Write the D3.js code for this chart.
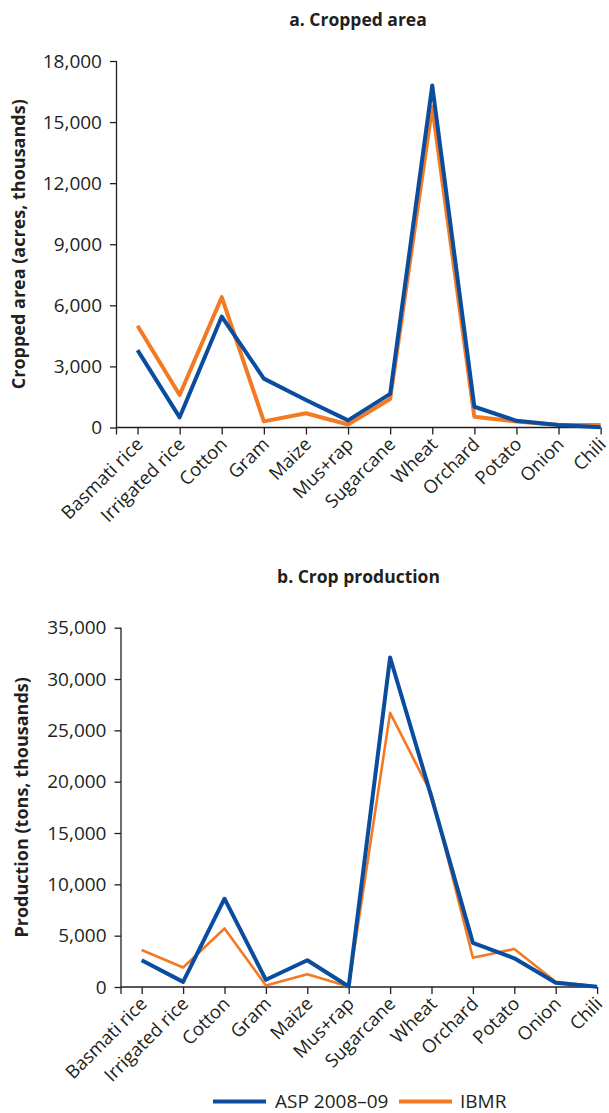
<!DOCTYPE html>
<html>
<head>
<meta charset="utf-8">
<script src="https://cdn.jsdelivr.net/npm/d3@7"></script>
<style>
  html, body { margin: 0; padding: 0; background: #ffffff; }
  svg { display: block; }
  text { font-family: "Open Sans", "Noto Sans", sans-serif; fill: #231f20; }
</style>
</head>
<body>
<svg id="chart" width="609" height="1113"></svg>
<script>
// ---- data ----
const categories = ["Basmati rice", "Irrigated rice", "Cotton", "Gram", "Maize", "Mus+rap",
                    "Sugarcane", "Wheat", "Orchard", "Potato", "Onion", "Chili"];
const seriesNames = ["ASP 2008\u201309", "IBMR"];

// a. Cropped area (acres, thousands)
const areaASP  = [3800, 500, 5450, 2400, 1350, 350, 1650, 16800, 1020, 330, 120, 10];
const areaIBMR = [5000, 1600, 6400, 300, 700, 150, 1400, 15750, 530, 300, 120, 120];
const areaTicks = [0, 3000, 6000, 9000, 12000, 15000, 18000];

// b. Crop production (tons, thousands)
const prodASP  = [2600, 500, 8600, 700, 2600, 50, 32100, 18500, 4300, 2800, 420, 30];
const prodIBMR = [3600, 1900, 5700, 150, 1250, 50, 26700, 18800, 2850, 3700, 515, 50];
const prodTicks = [0, 5000, 10000, 15000, 20000, 25000, 30000, 35000];

const colors = { asp: "#0a4d9f", ibmr: "#f37a23" };
const ink = "#231f20";

const svg = d3.select("#chart");
const fmt = d3.format(",");

function panel(cfg) {
  const g = svg.append("g");
  const x = d3.scalePoint().domain(categories)
    .range([cfg.left, cfg.left + cfg.step * categories.length]).padding(0.5);
  const y = d3.scaleLinear().domain([0, cfg.max]).range([cfg.bottom, cfg.top]);

  // title
  g.append("text").attr("x", cfg.titleX).attr("y", cfg.titleY)
    .attr("text-anchor", "middle").attr("font-weight", "bold").attr("font-size", 17.5)
    .text(cfg.title);

  // y-axis title
  g.append("text")
    .attr("transform", `translate(${cfg.ylabX},${(cfg.top + cfg.bottom) / 2}) rotate(-90)`)
    .attr("text-anchor", "middle").attr("font-weight", "bold").attr("font-size", 18)
    .text(cfg.ylabel);

  // y axis
  const ya = g.append("g").attr("transform", `translate(${cfg.left},0)`)
    .call(d3.axisLeft(y).tickValues(cfg.ticks).tickFormat(fmt).tickSize(6.5).tickPadding(8));
  ya.select(".domain").attr("stroke", ink).attr("stroke-width", 1.3).attr("d", `M0,${cfg.bottom + 7}V${cfg.top}`);
  ya.selectAll(".tick line").attr("stroke", ink).attr("stroke-width", 1.3);
  ya.selectAll(".tick text").attr("font-size", 19).attr("fill", ink)
    .style("font-family", '"Open Sans", "Noto Sans", sans-serif');

  // x axis
  const xa = g.append("g").attr("transform", `translate(0,${cfg.bottom})`)
    .call(d3.axisBottom(x).tickSize(7).tickFormat(""));
  const lastX = x(categories[categories.length - 1]);
  xa.select(".domain").attr("stroke", ink).attr("stroke-width", 1.3).attr("d", `M${cfg.left},0H${lastX}`);
  xa.selectAll(".tick line").attr("stroke", ink).attr("stroke-width", 1.3);
  xa.selectAll(".tick text").remove();
  xa.selectAll(".tick").append("text")
    .attr("transform", "translate(6,18) rotate(-45)")
    .attr("text-anchor", "end").attr("font-size", 18.5).attr("fill", ink)
    .style("font-family", '"Open Sans", "Noto Sans", sans-serif')
    .text(d => d);

  const line = d3.line().x((d, i) => x(categories[i])).y(d => y(d));
  g.append("path").datum(cfg.ibmr).attr("d", line).attr("fill", "none")
    .attr("stroke", colors.ibmr).attr("stroke-width", cfg.ibmrWidth)
    .attr("stroke-linejoin", "round").attr("stroke-linecap", "butt");
  g.append("path").datum(cfg.asp).attr("d", line).attr("fill", "none")
    .attr("stroke", colors.asp).attr("stroke-width", 4)
    .attr("stroke-linejoin", "round").attr("stroke-linecap", "butt");
}

panel({
  title: "a. Cropped area", titleX: 358, titleY: 26,
  ylabel: "Cropped area (acres, thousands)", ylabX: 25,
  left: 116.5, step: 42.1, top: 61, bottom: 427.5, max: 18000, ticks: areaTicks,
  asp: areaASP, ibmr: areaIBMR, ibmrWidth: 4
});

panel({
  title: "b. Crop production", titleX: 358.5, titleY: 583,
  ylabel: "Production (tons, thousands)", ylabX: 28,
  left: 121, step: 41.4, top: 627.7, bottom: 987, max: 35000, ticks: prodTicks,
  asp: prodASP, ibmr: prodIBMR, ibmrWidth: 2.6
});

// legend
const legend = svg.append("g");
const legItems = [
  { name: seriesNames[0], color: colors.asp, x1: 213, x2: 266, tx: 275 },
  { name: seriesNames[1], color: colors.ibmr, x1: 399, x2: 452, tx: 460 }
];
legItems.forEach(it => {
  legend.append("line").attr("x1", it.x1).attr("x2", it.x2).attr("y1", 1101.5).attr("y2", 1101.5)
    .attr("stroke", it.color).attr("stroke-width", 4);
  legend.append("text").attr("x", it.tx).attr("y", 1108).attr("font-size", 19).text(it.name);
});
</script>
</body>
</html>
